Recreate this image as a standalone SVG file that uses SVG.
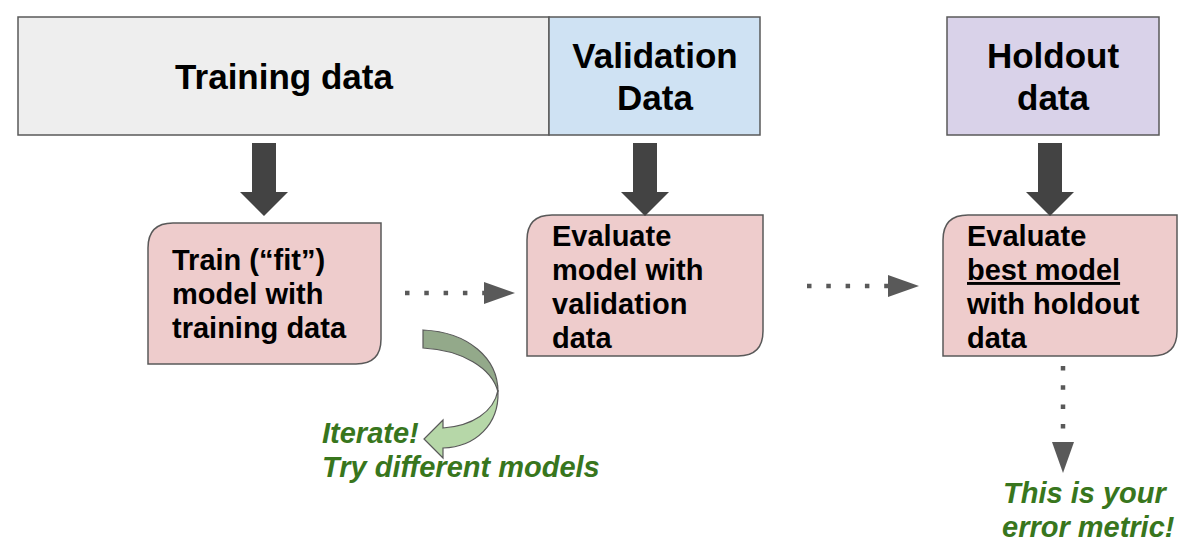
<svg xmlns="http://www.w3.org/2000/svg" width="1192" height="556" viewBox="0 0 1192 556">
<style>
text{font-family:"Liberation Sans",Arial,sans-serif;font-weight:bold;fill:#000}
.hdr{font-size:35px;text-anchor:middle}
.box{font-size:29px}
.note{font-size:29px;font-style:italic;fill:#38761d}
.data{stroke:#595959;stroke-width:1.5}
.proc{fill:#eecccc;stroke:#595959;stroke-width:1.5}
.fat{fill:#434343}
.dot{stroke:#595959;stroke-width:4.5;stroke-dasharray:4.5 14.8;fill:none}
.head{fill:#595959}
</style>
<rect width="1192" height="556" fill="#fff"/>
<g id="training-data"><rect class="data" x="18" y="17" width="531" height="118" fill="#eeeeee"/><text class="hdr" x="284" y="89">Training data</text></g>
<g id="validation-data"><rect class="data" x="549" y="17" width="211" height="118" fill="#cfe2f3"/><text class="hdr" x="655" y="68">Validation</text><text class="hdr" x="655" y="110">Data</text></g>
<g id="holdout-data"><rect class="data" x="947" y="17" width="212" height="118" fill="#d9d2e9"/><text class="hdr" x="1053" y="68">Holdout</text><text class="hdr" x="1053" y="110">data</text></g>
<g id="train-box"><path class="proc" d="M173,223 H381 V339 Q381,364 356,364 H148 V248 Q148,223 173,223 Z"/><text class="box" x="172" y="270">Train (“fit”)</text><text class="box" x="172" y="304">model with</text><text class="box" x="172" y="338">training data</text></g>
<g id="validate-box"><path class="proc" d="M552,215 H763 V331 Q763,356 738,356 H527 V240 Q527,215 552,215 Z"/><text class="box" x="552" y="246">Evaluate</text><text class="box" x="552" y="280">model with</text><text class="box" x="552" y="314">validation</text><text class="box" x="552" y="348">data</text></g>
<g id="holdout-box"><path class="proc" d="M968,215 H1177 V331 Q1177,356 1152,356 H943 V240 Q943,215 968,215 Z"/><text class="box" x="967" y="246">Evaluate</text><text class="box" x="967" y="280" text-decoration="underline">best model</text><text class="box" x="967" y="314">with holdout</text><text class="box" x="967" y="348">data</text></g>
<g id="iterate-note"><text class="note" x="322" y="443">Iterate!</text><text class="note" x="322" y="477">Try different models</text></g>
<g id="metric-note"><text class="note" x="1003" y="503">This is your</text><text class="note" x="1002" y="537">error metric!</text></g>
<g id="connectors">
<path class="fat" d="M252,143 H276 V192 H288 L264,216 L240,192 H252 Z"/>
<path class="fat" d="M633,143 H657 V192 H669 L645,216 L621,192 H633 Z"/>
<path class="fat" d="M1038,143 H1062 V192 H1074 L1050,216 L1026,192 H1038 Z"/>
<line class="dot" x1="405" y1="293" x2="484" y2="293"/><path class="head" d="M484,282 L515,293 L484,304 Z"/>
<line class="dot" x1="807" y1="286" x2="888" y2="286"/><path class="head" d="M888,275 L919,286 L888,297 Z"/>
<line class="dot" x1="1063" y1="366" x2="1063" y2="442"/><path class="head" d="M1052,442 L1063,473 L1074,442 Z"/>
<path d="M498,390 C494,412 472,426 443,428 L443,420 L424,439 L443,458 L443,448 C476,447 499,424 498,392 Z" fill="#b6d7a8" stroke="#595959" stroke-width="1.2"/>
<path d="M423,330 C468,332 498,358 498,392 C492,368 462,350 423,348 Z" fill="#93a98a" stroke="#595959" stroke-width="1.2"/>
</g>
</svg>
